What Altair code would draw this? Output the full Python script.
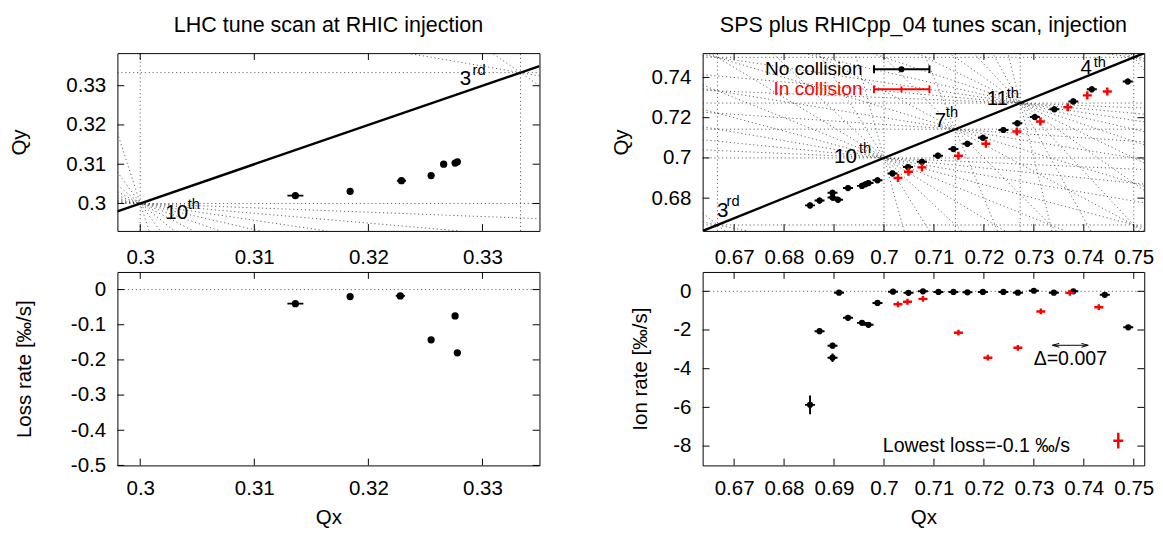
import altair as alt
import pandas as pd

FONT = "Liberation Sans"

# ---------------- data: LHC tune scan (left) ----------------
lhc_tune_qx = [0.3136, 0.3184, 0.3229, 0.3255, 0.3266, 0.3276, 0.3278]
lhc_tune_qy = [0.3020, 0.3031, 0.3058, 0.3071, 0.3100, 0.3103, 0.3106]
lhc_tune_qx_err = [0.0007, 0.0002, 0.0004, 0.0002, 0.0002, 0.0002, 0.0002]
lhc_tune_qy_err = [0.0003, 0.0003, 0.0003, 0.0003, 0.0003, 0.0003, 0.0003]

lhc_loss_qx = [0.3136, 0.3184, 0.3228, 0.3255, 0.3276, 0.3278]
lhc_loss = [-0.040, -0.020, -0.018, -0.143, -0.075, -0.180]
lhc_loss_qx_err = [0.0007, 0.0002, 0.0004, 0.0002, 0.0002, 0.0002]
lhc_loss_err = [0.004, 0.004, 0.004, 0.004, 0.004, 0.004]

# ---------------- data: SPS / RHICpp_04 scan (right) ----------------
sps_nc_qx = [0.6852, 0.6871, 0.6897, 0.6897, 0.6908, 0.6928, 0.6956, 0.6963,
             0.6969, 0.6987, 0.7017, 0.7048, 0.7076, 0.7108, 0.7139, 0.7167,
             0.7198, 0.7239, 0.7267, 0.7302, 0.7341, 0.7379, 0.7416, 0.7488]
sps_nc_qy = [0.6764, 0.6788, 0.6827, 0.6803, 0.6792, 0.6850, 0.6861, 0.6869,
             0.6875, 0.6889, 0.6923, 0.6955, 0.6981, 0.7011, 0.7044, 0.7070,
             0.7100, 0.7139, 0.7172, 0.7203, 0.7242, 0.7281, 0.7341, 0.7380]
sps_nc_qx_err = [0.0010, 0.0010, 0.0010, 0.0010, 0.0010, 0.0010,
                 0.0010, 0.0010, 0.0010, 0.0010, 0.0010, 0.0010,
                 0.0010, 0.0010, 0.0010, 0.0010, 0.0010, 0.0010,
                 0.0010, 0.0010, 0.0010, 0.0010, 0.0010, 0.0010]
sps_nc_qy_err = [0.0015, 0.0015, 0.0015, 0.0015, 0.0015, 0.0015, 0.0015, 0.0015,
                 0.0015, 0.0015, 0.0015, 0.0015, 0.0015, 0.0015, 0.0015, 0.0015,
                 0.0015, 0.0015, 0.0015, 0.0015, 0.0015, 0.0015, 0.0015, 0.0015]

sps_c_qx = [0.7028, 0.7049, 0.7076, 0.7149, 0.7204, 0.7266, 0.7313, 0.7368, 0.7407, 0.7447]
sps_c_qy = [0.6900, 0.6931, 0.6953, 0.7011, 0.7070, 0.7131, 0.7181, 0.7252, 0.7311, 0.7330]
sps_c_qx_err = [0.0009, 0.0009, 0.0009, 0.0009, 0.0009, 0.0009, 0.0009, 0.0009, 0.0009, 0.0009]
sps_c_qy_err = [0.0020, 0.0020, 0.0020, 0.0020, 0.0020, 0.0020, 0.0020, 0.0020, 0.0020, 0.0020]

rate_nc_qx = [0.6852, 0.6871, 0.6897, 0.6897, 0.6910, 0.6928, 0.6956, 0.6969,
              0.6987, 0.7018, 0.7049, 0.7078, 0.7109, 0.7139, 0.7167, 0.7198,
              0.7239, 0.7268, 0.7300, 0.7340, 0.7379, 0.7442, 0.7489]
rate_nc = [-5.87, -2.06, -2.81, -3.43, -0.07, -1.37, -1.63, -1.73,
           -0.60, -0.02, -0.08, 0.00, -0.03, -0.03, -0.05, -0.03,
           -0.03, -0.07, 0.03, -0.07, 0.00, -0.18, -1.86]
rate_nc_qx_err = [0.0010, 0.0010, 0.0010, 0.0010, 0.0010, 0.0010, 0.0010, 0.0010,
                  0.0010, 0.0010, 0.0010, 0.0010, 0.0010, 0.0010, 0.0010, 0.0010,
                  0.0010, 0.0010, 0.0010, 0.0010, 0.0010, 0.0010, 0.0010]
rate_nc_err = [0.48, 0.12, 0.15, 0.22, 0.12, 0.12, 0.12, 0.12,
               0.12, 0.12, 0.12, 0.12, 0.12, 0.12, 0.12, 0.12,
               0.12, 0.12, 0.12, 0.12, 0.12, 0.12, 0.12]

rate_c_qx = [0.7028, 0.7047, 0.7078, 0.7149, 0.7208, 0.7268, 0.7314, 0.7372, 0.7430, 0.7469]
rate_c = [-0.67, -0.54, -0.39, -2.14, -3.43, -2.92, -1.04, -0.08, -0.82, -7.72]
rate_c_qx_err = [0.0009, 0.0009, 0.0009, 0.0009, 0.0009, 0.0009, 0.0009, 0.0009, 0.0009, 0.0010]
rate_c_err = [0.15, 0.15, 0.15, 0.15, 0.15, 0.15, 0.15, 0.15, 0.15, 0.41]

# resonance nodes: lines a*Qx + b*Qy = n with a + b = order
lhc_resonances = [(10, 3), (3, 1)]
sps_resonances = [(3, 2), (10, 7), (7, 5), (11, 8), (4, 3)]

# resonance order labels: base, superscript, Qx, Qy, sup Qx, sup Qy
lhc_res_base = ["3", "10"]
lhc_res_sup = ["rd", "th"]
lhc_res_qx = [0.3285, 0.3032]
lhc_res_qy = [0.3318, 0.2976]
lhc_sup_qx = [0.3297, 0.3047]
lhc_sup_qy = [0.3340, 0.2999]

sps_res_base = ["3", "10", "7", "11", "4"]
sps_res_sup = ["rd", "th", "th", "th", "th"]
sps_res_qx = [0.6677, 0.6923, 0.7113, 0.7227, 0.7405]
sps_res_qy = [0.6736, 0.7002, 0.7184, 0.7291, 0.7447]
sps_sup_qx = [0.6698, 0.6962, 0.7136, 0.7258, 0.7432]
sps_sup_qy = [0.6783, 0.7048, 0.7228, 0.7322, 0.7478]

# ranges and ticks
L_XDOM = [0.298, 0.335]
L_YDOM_T = [0.293, 0.3383]
L_YDOM_B = [-0.5, 0.05]
R_XDOM = [0.6637, 0.7521]
R_YDOM_T = [0.6637, 0.7521]
R_YDOM_B = [-9.0, 1.0]
L_XTICKS = [0.30, 0.31, 0.32, 0.33]
L_YTICKS_T = [0.30, 0.31, 0.32, 0.33]
L_YTICKS_B = [0.0, -0.1, -0.2, -0.3, -0.4, -0.5]
R_XTICKS = [0.67, 0.68, 0.69, 0.70, 0.71, 0.72, 0.73, 0.74, 0.75]
R_YTICKS_T = [0.68, 0.70, 0.72, 0.74]
R_YTICKS_B = [0, -2, -4, -6, -8]

LW, RW = 432, 452
TH, BH = 182, 198
TICK = 7
LABEXPR = "replace(datum.label, '\u2212', '-')"


def clip_line(a, b, n, xd, yd):
    x0, x1 = xd
    y0, y1 = yd
    if b == 0:
        x = n / a
        return (x, y0, x, y1) if x0 <= x <= x1 else None
    if a == 0:
        y = n / b
        return (x0, y, x1, y) if y0 <= y <= y1 else None
    pts = []
    for x in (x0, x1):
        y = (n - a * x) / b
        if y0 <= y <= y1:
            pts.append((x, y))
    for y in (y0, y1):
        x = (n - b * y) / a
        if x0 <= x <= x1:
            pts.append((x, y))
    uniq = []
    for p in pts:
        if all(abs(p[0] - q[0]) > 1e-9 or abs(p[1] - q[1]) > 1e-9 for q in uniq):
            uniq.append(p)
    if len(uniq) < 2:
        return None
    return (uniq[0][0], uniq[0][1], uniq[1][0], uniq[1][1])


def resonance_df(nodes, xd, yd):
    rows = []
    for order, n in nodes:
        for a in range(order + 1):
            seg = clip_line(a, order - a, n, xd, yd)
            if seg:
                rows.append(dict(x=seg[0], y=seg[1], x2=seg[2], y2=seg[3]))
    return pd.DataFrame(rows)


def make_enc(xdom, ydom, xticks, yticks, xtitle, ytitle, ypad, xlabpad):
    xaxis = alt.Axis(values=xticks, title=xtitle, format="~g", labelExpr=LABEXPR,
                     titlePadding=8, labelPadding=xlabpad)
    yaxis = alt.Axis(values=yticks, title=ytitle, format="~g", labelExpr=LABEXPR,
                     titlePadding=ypad)
    xs = alt.Scale(domain=xdom, nice=False, zero=False)
    ys = alt.Scale(domain=ydom, nice=False, zero=False)

    def X(f):
        return alt.X(f, type="quantitative", scale=xs, axis=xaxis)

    def Y(f):
        return alt.Y(f, type="quantitative", scale=ys, axis=yaxis)
    return X, Y


def tick_layers(W, H, xticks, yticks, X, Y):
    dfx = pd.DataFrame({"t": xticks})
    dfy = pd.DataFrame({"t": yticks})
    base_x = alt.Chart(dfx).mark_rule(color="black", strokeWidth=1)
    base_y = alt.Chart(dfy).mark_rule(color="black", strokeWidth=1)
    return [
        base_x.encode(x=X("t:Q"), y=alt.value(H), y2=alt.value(H - TICK)),
        base_x.encode(x=X("t:Q"), y=alt.value(0), y2=alt.value(TICK)),
        base_y.encode(y=Y("t:Q"), x=alt.value(0), x2=alt.value(TICK)),
        base_y.encode(y=Y("t:Q"), x=alt.value(W), x2=alt.value(W - TICK)),
    ]


def errorbar_layers(df, X, Y, color, width, point_size):
    layers = [
        alt.Chart(df).mark_rule(color=color, strokeWidth=width, clip=True).encode(
            x=X("xlo:Q"), x2="xhi:Q", y=Y("y:Q")),
        alt.Chart(df).mark_rule(color=color, strokeWidth=width, clip=True).encode(
            x=X("x:Q"), y=Y("ylo:Q"), y2="yhi:Q"),
    ]
    if point_size:
        layers.append(alt.Chart(df).mark_point(filled=True, shape="circle", size=point_size,
                                               color=color, opacity=1, clip=True).encode(
            x=X("x:Q"), y=Y("y:Q")))
    return layers


def err_df(x, y, xe, ye):
    return pd.DataFrame({
        "x": x, "y": y,
        "xlo": [a - e for a, e in zip(x, xe)], "xhi": [a + e for a, e in zip(x, xe)],
        "ylo": [a - e for a, e in zip(y, ye)], "yhi": [a + e for a, e in zip(y, ye)],
    })


def res_label_layers(base, sup, bx, by, sx, sy, X, Y):
    d1 = pd.DataFrame({"t": base, "x": bx, "y": by})
    d2 = pd.DataFrame({"t": sup, "x": sx, "y": sy})
    return [
        alt.Chart(d1).mark_text(font=FONT, fontSize=21, color="black", align="center",
                                baseline="middle").encode(x=X("x:Q"), y=Y("y:Q"), text="t:N"),
        alt.Chart(d2).mark_text(font=FONT, fontSize=15, color="black", align="center",
                                baseline="middle").encode(x=X("x:Q"), y=Y("y:Q"), text="t:N"),
    ]


def title(text):
    return alt.Title(text, font=FONT, fontSize=22, fontWeight="normal", color="black",
                     offset=16, anchor="middle")


dotted = dict(color="#3a3a3a", strokeWidth=0.8, strokeDash=[1.2, 2.8], clip=True)

# ---------------- top-left ----------------
X, Y = make_enc(L_XDOM, L_YDOM_T, L_XTICKS, L_YTICKS_T, None, "Qy", 37, 16)
res = resonance_df(lhc_resonances, L_XDOM, L_YDOM_T)
diag = pd.DataFrame({"x": [L_XDOM[0]], "y": [L_XDOM[0]], "x2": [L_XDOM[1]], "y2": [L_XDOM[1]]})
tl_layers = [
    alt.Chart(res).mark_rule(**dotted).encode(x=X("x:Q"), y=Y("y:Q"), x2="x2:Q", y2="y2:Q"),
    alt.Chart(diag).mark_rule(color="black", strokeWidth=2.5, clip=True).encode(
        x=X("x:Q"), y=Y("y:Q"), x2="x2:Q", y2="y2:Q"),
]
tl_layers += res_label_layers(lhc_res_base, lhc_res_sup, lhc_res_qx, lhc_res_qy,
                              lhc_sup_qx, lhc_sup_qy, X, Y)
tl_layers += errorbar_layers(err_df(lhc_tune_qx, lhc_tune_qy, lhc_tune_qx_err, lhc_tune_qy_err),
                             X, Y, "black", 2, 55)
tl_layers += tick_layers(LW, TH, L_XTICKS, L_YTICKS_T, X, Y)
tl = alt.layer(*tl_layers).properties(width=LW, height=TH, title=title("LHC tune scan at RHIC injection"))

# ---------------- bottom-left ----------------
X, Y = make_enc(L_XDOM, L_YDOM_B, L_XTICKS, L_YTICKS_B, "Qx", "Loss rate [‰/s]", 37, 13)
zero = pd.DataFrame({"y": [0.0]})
bl_layers = [alt.Chart(zero).mark_rule(**dotted).encode(y=Y("y:Q"))]
bl_layers += errorbar_layers(err_df(lhc_loss_qx, lhc_loss, lhc_loss_qx_err, lhc_loss_err),
                             X, Y, "black", 2, 55)
bl_layers += tick_layers(LW, BH, L_XTICKS, L_YTICKS_B, X, Y)
bl = alt.layer(*bl_layers).properties(width=LW, height=BH)

# ---------------- top-right ----------------
X, Y = make_enc(R_XDOM, R_YDOM_T, R_XTICKS, R_YTICKS_T, None, "Qy", 20, 16)
res = resonance_df(sps_resonances, R_XDOM, R_YDOM_T)
diag = pd.DataFrame({"x": [R_XDOM[0]], "y": [R_XDOM[0]], "x2": [R_XDOM[1]], "y2": [R_XDOM[1]]})
tr_layers = [
    alt.Chart(res).mark_rule(**dotted).encode(x=X("x:Q"), y=Y("y:Q"), x2="x2:Q", y2="y2:Q"),
    alt.Chart(diag).mark_rule(color="black", strokeWidth=2.5, clip=True).encode(
        x=X("x:Q"), y=Y("y:Q"), x2="x2:Q", y2="y2:Q"),
]
tr_layers += res_label_layers(sps_res_base, sps_res_sup, sps_res_qx, sps_res_qy,
                              sps_sup_qx, sps_sup_qy, X, Y)
tr_layers += errorbar_layers(err_df(sps_nc_qx, sps_nc_qy, sps_nc_qx_err, sps_nc_qy_err),
                             X, Y, "black", 2, 40)
tr_layers += errorbar_layers(err_df(sps_c_qx, sps_c_qy, sps_c_qx_err, sps_c_qy_err),
                             X, Y, "red", 2.5, 0)

# legend (placed in data coordinates of the panel)
leg_names = ["No collision", "In collision"]
leg_colors = ["black", "red"]
leg_text_x = [0.6957, 0.6957]
leg_y = [0.7441, 0.7341]
leg_lo = [0.6980, 0.6980]
leg_hi = [0.7091, 0.7091]
leg_mid = [0.7035, 0.7035]
leg = pd.DataFrame({"name": leg_names, "c": leg_colors, "tx": leg_text_x, "y": leg_y,
                    "lo": leg_lo, "hi": leg_hi, "mid": leg_mid})
cscale = alt.Scale(domain=leg_colors, range=leg_colors)
tr_layers += [
    alt.Chart(leg).mark_text(font=FONT, fontSize=19.5, align="right", baseline="middle").encode(
        x=X("tx:Q"), y=Y("y:Q"), text="name:N", color=alt.Color("c:N", scale=cscale, legend=None)),
    alt.Chart(leg).mark_rule(strokeWidth=2).encode(
        x=X("lo:Q"), x2="hi:Q", y=Y("y:Q"), color=alt.Color("c:N", scale=cscale, legend=None)),
    alt.Chart(leg).mark_point(shape="M0,-1L0,1", size=64, strokeWidth=2, filled=False, opacity=1).encode(
        x=X("lo:Q"), y=Y("y:Q"), color=alt.Color("c:N", scale=cscale, legend=None)),
    alt.Chart(leg).mark_point(shape="M0,-1L0,1", size=64, strokeWidth=2, filled=False, opacity=1).encode(
        x=X("hi:Q"), y=Y("y:Q"), color=alt.Color("c:N", scale=cscale, legend=None)),
    alt.Chart(leg.iloc[[1]]).mark_point(shape="M0,-1L0,1", size=36, strokeWidth=2, filled=False,
                                        opacity=1).encode(
        x=X("mid:Q"), y=Y("y:Q"), color=alt.Color("c:N", scale=cscale, legend=None)),
    alt.Chart(leg.iloc[[0]]).mark_point(shape="circle", size=40, filled=True, opacity=1).encode(
        x=X("mid:Q"), y=Y("y:Q"), color=alt.Color("c:N", scale=cscale, legend=None)),
]
tr_layers += tick_layers(RW, TH, R_XTICKS, R_YTICKS_T, X, Y)
tr = alt.layer(*tr_layers).properties(width=RW, height=TH,
                                      title=title("SPS plus RHICpp_04 tunes scan, injection"))

# ---------------- bottom-right ----------------
X, Y = make_enc(R_XDOM, R_YDOM_B, R_XTICKS, R_YTICKS_B, "Qx", "Ion rate [‰/s]", 23, 13)
br_layers = [alt.Chart(zero).mark_rule(**dotted).encode(y=Y("y:Q"))]
br_layers += errorbar_layers(err_df(rate_nc_qx, rate_nc, rate_nc_qx_err, rate_nc_err),
                             X, Y, "black", 2, 40)
br_layers += errorbar_layers(err_df(rate_c_qx, rate_c, rate_c_qx_err, rate_c_err),
                             X, Y, "red", 2.5, 0)

arrow_lo = [0.7338]
arrow_hi = [0.7408]
arrow_y = [-2.79]
arr = pd.DataFrame({"lo": arrow_lo, "hi": arrow_hi, "y": arrow_y})
note_text = ["\u0394=0.007", "Lowest loss=-0.1 \u2030/s"]
note_x = [0.7373, 0.7185]
note_y = [-3.52, -8.0]
notes = pd.DataFrame({"t": note_text, "x": note_x, "y": note_y})
br_layers += [
    alt.Chart(arr).mark_rule(color="black", strokeWidth=1).encode(x=X("lo:Q"), x2="hi:Q", y=Y("y:Q")),
    alt.Chart(arr).mark_point(shape="M1,-0.55L-1,0L1,0.55", size=50, strokeWidth=1, filled=False,
                              color="black", opacity=1, xOffset=3).encode(x=X("lo:Q"), y=Y("y:Q")),
    alt.Chart(arr).mark_point(shape="M-1,-0.55L1,0L-1,0.55", size=50, strokeWidth=1, filled=False,
                              color="black", opacity=1, xOffset=-3).encode(x=X("hi:Q"), y=Y("y:Q")),
    alt.Chart(notes).mark_text(font=FONT, fontSize=20, color="black", align="center",
                               baseline="middle").encode(x=X("x:Q"), y=Y("y:Q"), text="t:N"),
]
br_layers += tick_layers(RW, BH, R_XTICKS, R_YTICKS_B, X, Y)
br = alt.layer(*br_layers).properties(width=RW, height=BH)

chart = alt.concat(
    tl, tr, bl, br, columns=2,
    spacing={"row": 42, "column": 167},
    bounds="flush", align="each",
).properties(
    padding={"left": 0, "top": 0, "right": 0, "bottom": 0},
    background="white",
).configure_view(
    stroke="black", strokeWidth=1
).configure_axis(
    domain=False, grid=False, ticks=False, tickSize=0,
    labelFont=FONT, labelFontSize=21, labelColor="black", labelPadding=12,
    labelOverlap=False, labelFlush=False,
    titleFont=FONT, titleFontSize=21, titleFontWeight="normal", titleColor="black",
)

chart.save("out.html", embed_options={"renderer": "svg", "actions": False})
